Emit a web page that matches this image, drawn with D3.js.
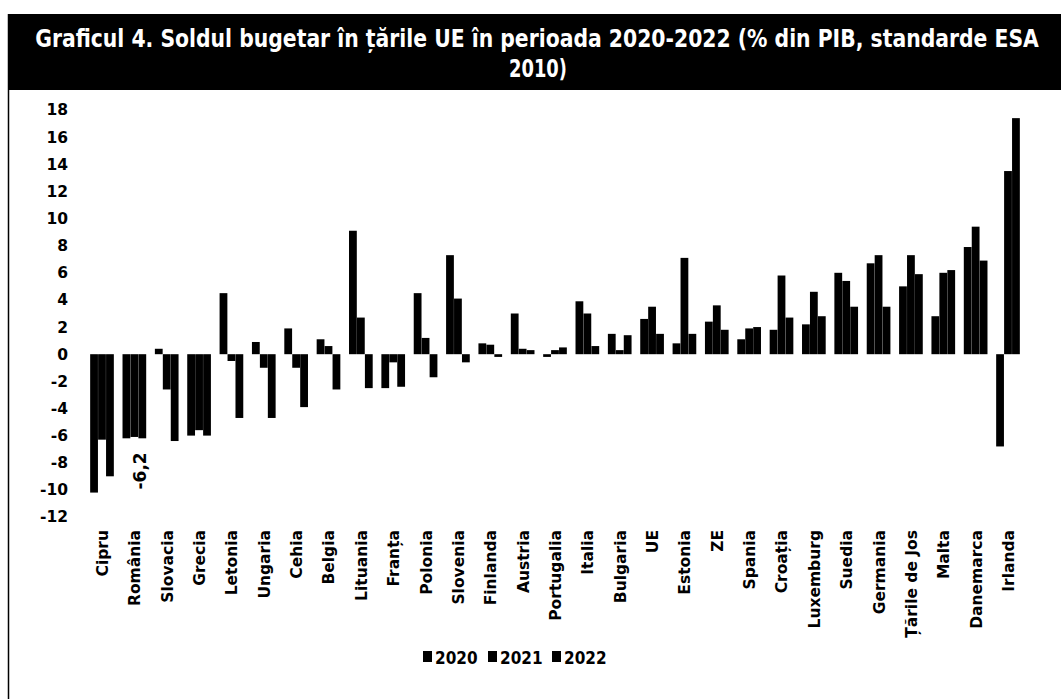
<!DOCTYPE html>
<html>
<head>
<meta charset="utf-8">
<script src="https://cdn.jsdelivr.net/npm/d3@7"></script>
<style>
  html, body { margin: 0; padding: 0; background: #fff; }
  svg { display: block; }
</style>
</head>
<body>
<script>
// ---- data ----
const countries = ["Cipru","România","Slovacia","Grecia","Letonia","Ungaria","Cehia","Belgia","Lituania","Franța","Polonia","Slovenia","Finlanda","Austria","Portugalia","Italia","Bulgaria","UE","Estonia","ZE","Spania","Croația","Luxemburg","Suedia","Germania","Țările de Jos","Malta","Danemarca","Irlanda"];
const years = ["2020","2021","2022"];
const v2020 = [-10.2,-6.2, 0.4,-6.0, 4.5, 0.9, 1.9, 1.1, 9.1,-2.5, 4.5, 7.3, 0.8, 3.0,-0.2, 3.9, 1.5, 2.6, 0.8, 2.4, 1.1, 1.8, 2.2, 6.0, 6.7, 5.0, 2.8, 7.9,-6.8];
const v2021 = [-6.3, -6.1,-2.6,-5.6,-0.5,-1.0,-1.0, 0.6, 2.7,-0.6, 1.2, 4.1, 0.7, 0.4, 0.3, 3.0, 0.3, 3.5, 7.1, 3.6, 1.9, 5.8, 4.6, 5.4, 7.3, 7.3, 6.0, 9.4,13.5];
const v2022 = [-9.0, -6.2,-6.4,-6.0,-4.7,-4.7,-3.9,-2.6,-2.5,-2.4,-1.7,-0.6,-0.2, 0.3, 0.5, 0.6, 1.4, 1.5, 1.5, 1.8, 2.0, 2.7, 2.8, 3.5, 3.5, 5.9, 6.2, 6.9,17.4];
const yTicks = [-12,-10,-8,-6,-4,-2,0,2,4,6,8,10,12,14,16,18];
const labelled = {country: "România", year: "2022", text: "-6,2"};
const titleLines = ["Graficul 4. Soldul bugetar în țările UE în perioada 2020-2022 (% din PIB, standarde ESA", "2010)"];

const series = {"2020": v2020, "2021": v2021, "2022": v2022};
const rows = [];
countries.forEach((c, i) => years.forEach(yr => rows.push({country: c, year: yr, value: series[yr][i]})));

// ---- layout ----
const W = 1061, H = 699;
const svg = d3.select("body").append("svg").attr("width", W).attr("height", H);

// title bar
svg.append("rect").attr("x", 8).attr("y", 14).attr("width", W - 8).attr("height", 76).attr("fill", "#000");
svg.append("line").attr("x1", 8.5).attr("x2", 8.5).attr("y1", 14).attr("y2", H).attr("stroke", "#000").attr("stroke-width", 1.5);
const tfont = "'DejaVu Sans Condensed', 'DejaVu Sans', sans-serif";
function titleText(str, cx, cy, targetW) {
  const g = svg.append("g");
  const t = g.append("text").attr("x", 0).attr("y", 0).attr("text-anchor", "middle")
    .attr("fill", "#fff").attr("font-family", tfont).attr("font-weight", "bold").attr("font-size", 25)
    .text(str);
  const natural = t.node().getComputedTextLength();
  const s = Math.min(1, targetW / natural);
  g.attr("transform", `translate(${cx},${cy}) scale(${s},1)`);
}
titleText(titleLines[0], 537, 47, 1004);
titleText(titleLines[1], 538, 77, 58);

// scales
const x = d3.scalePoint().domain(countries).range([102, 1008]);
const xYear = d3.scaleBand().domain(years).range([-12, 12]).padding(0.02);
const y = d3.scaleLinear().domain([-12, 18]).range([517, 110]);

// bars
svg.append("g").selectAll("rect").data(rows).join("rect")
  .attr("x", d => x(d.country) + xYear(d.year))
  .attr("width", xYear.bandwidth())
  .attr("y", d => y(Math.max(0, d.value)))
  .attr("height", d => Math.abs(y(d.value) - y(0)))
  .attr("fill", "#000");

// y axis
const lfont = "'DejaVu Sans', sans-serif";
const ya = svg.append("g").attr("transform", "translate(70,0)")
  .call(d3.axisLeft(y).tickValues(yTicks).tickSize(0).tickPadding(2).tickFormat(d => String(d)));
ya.select(".domain").remove();
ya.selectAll("text").attr("font-family", lfont).attr("font-weight", "bold").attr("font-size", 15.5).attr("fill", "#000");

// x axis labels
const xa = svg.append("g").attr("transform", "translate(0,525)")
  .call(d3.axisBottom(x).tickSize(0).tickPadding(0));
xa.select(".domain").remove();
xa.selectAll("text")
  .attr("transform", "rotate(-90)")
  .attr("text-anchor", "end")
  .attr("x", -5).attr("y", 0).attr("dy", ".35em")
  .attr("font-family", lfont).attr("font-weight", "bold").attr("font-size", 15.5).attr("fill", "#000");

// data label
{
  const i = countries.indexOf(labelled.country);
  const v = series[labelled.year][i];
  const lx = x(labelled.country) + xYear(labelled.year) + 2;
  const ly = y(v) + 14;
  svg.append("text").attr("transform", `translate(${lx},${ly}) rotate(-90)`)
    .attr("text-anchor", "end").attr("dy", ".35em")
    .attr("font-family", lfont).attr("font-weight", "bold").attr("font-size", 17)
    .text(labelled.text);
}

// legend
const legX = [423, 488, 552];
const lg = svg.append("g");
years.forEach((yr, i) => {
  lg.append("rect").attr("x", legX[i]).attr("y", 651).attr("width", 9).attr("height", 11).attr("fill", "#000");
  lg.append("text").attr("x", legX[i] + 12).attr("y", 664)
    .attr("font-family", tfont).attr("font-weight", "bold").attr("font-size", 17).attr("fill", "#000").text(yr);
});
</script>
</body>
</html>
